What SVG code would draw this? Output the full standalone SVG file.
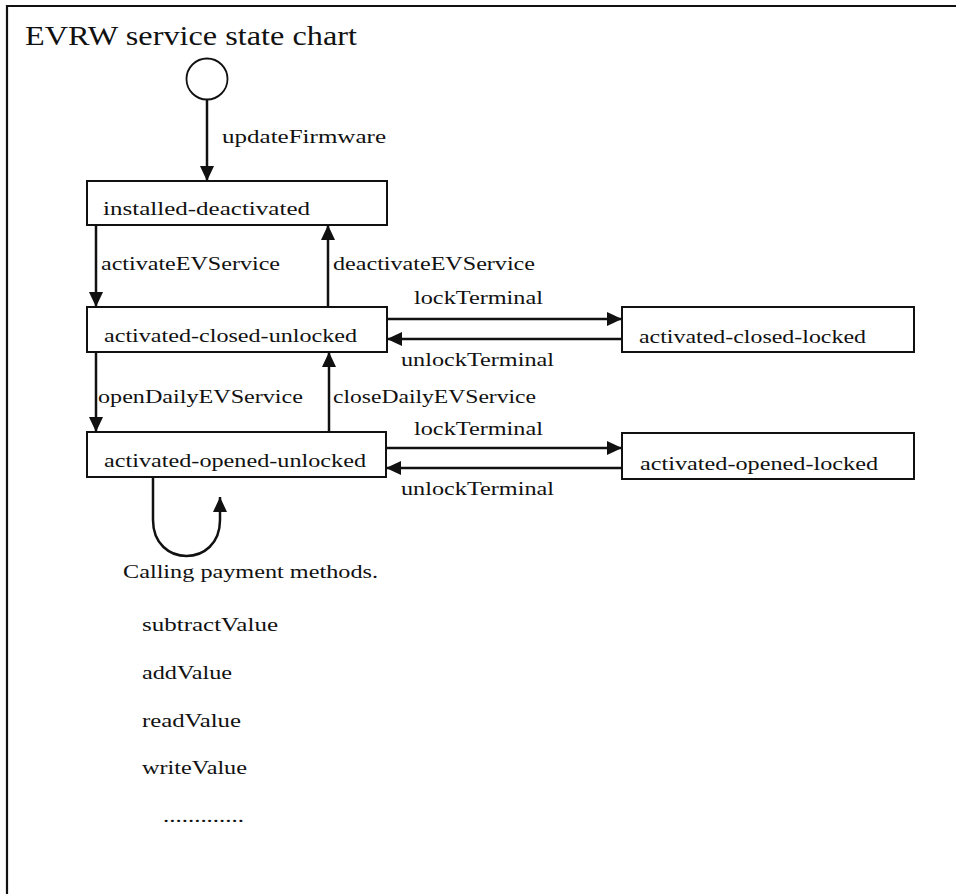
<svg xmlns="http://www.w3.org/2000/svg" width="956" height="894" viewBox="0 0 956 894" font-family="'Liberation Serif', 'DejaVu Serif', serif">
<style>
text{font-family:'Liberation Serif','DejaVu Serif',serif;fill:#111;font-size:18px}
.title{font-size:27px}
.box{fill:#fff;stroke:#111;stroke-width:2}
.conn{fill:none;stroke:#111;stroke-width:2.5}
</style>
<defs>
<marker id="ah" markerUnits="userSpaceOnUse" markerWidth="16" markerHeight="14" refX="15" refY="7" orient="auto">
<path d="M0,0 L15,7 L0,14 z" fill="#111"/>
</marker>
</defs>
<rect width="956" height="894" fill="#fff"/>
<g id="frame">
<path d="M7,894 L7,6 L956,6" fill="none" stroke="#111" stroke-width="2.2"/>
<text class="title" x="25" y="45" textLength="332" lengthAdjust="spacingAndGlyphs">EVRW service state chart</text>
</g>
<g id="initial">
<circle cx="207" cy="79" r="20.5" fill="#fff" stroke="#111" stroke-width="1.8"/>
</g>
<g id="installed-deactivated">
<rect class="box" x="87" y="181" width="300" height="44"/>
<text x="103" y="215" textLength="207" lengthAdjust="spacingAndGlyphs">installed-deactivated</text>
</g>
<g id="activated-closed-unlocked">
<rect class="box" x="87" y="307" width="300" height="45"/>
<text x="104" y="342" textLength="253" lengthAdjust="spacingAndGlyphs">activated-closed-unlocked</text>
</g>
<g id="activated-closed-locked">
<rect class="box" x="622" y="307" width="292" height="45"/>
<text x="639" y="343" textLength="227" lengthAdjust="spacingAndGlyphs">activated-closed-locked</text>
</g>
<g id="activated-opened-unlocked">
<rect class="box" x="87" y="432" width="299" height="45"/>
<text x="104" y="467" textLength="262" lengthAdjust="spacingAndGlyphs">activated-opened-unlocked</text>
</g>
<g id="activated-opened-locked">
<rect class="box" x="622" y="433" width="292" height="46"/>
<text x="640" y="470" textLength="238" lengthAdjust="spacingAndGlyphs">activated-opened-locked</text>
</g>
<g id="connectors">
<line class="conn" x1="207" y1="100" x2="207" y2="181" marker-end="url(#ah)"/>
<line class="conn" x1="96" y1="225" x2="96" y2="307" marker-end="url(#ah)"/>
<line class="conn" x1="328" y1="307" x2="328" y2="225" marker-end="url(#ah)"/>
<line class="conn" x1="387" y1="319" x2="622" y2="319" marker-end="url(#ah)"/>
<line class="conn" x1="622" y1="339" x2="387" y2="339" marker-end="url(#ah)"/>
<line class="conn" x1="96" y1="352" x2="96" y2="432" marker-end="url(#ah)"/>
<line class="conn" x1="329" y1="432" x2="329" y2="352" marker-end="url(#ah)"/>
<line class="conn" x1="386" y1="448" x2="622" y2="448" marker-end="url(#ah)"/>
<line class="conn" x1="622" y1="468" x2="386" y2="468" marker-end="url(#ah)"/>
<path class="conn" d="M153,477 L153,520 C153,568 220,568 220,520 L220,497" marker-end="url(#ah)"/>
</g>
<g id="labels">
<text x="222" y="143" textLength="164" lengthAdjust="spacingAndGlyphs">updateFirmware</text>
<text x="101" y="270" textLength="179" lengthAdjust="spacingAndGlyphs">activateEVService</text>
<text x="333" y="270" textLength="202" lengthAdjust="spacingAndGlyphs">deactivateEVService</text>
<text x="414" y="304" textLength="129" lengthAdjust="spacingAndGlyphs">lockTerminal</text>
<text x="401" y="366" textLength="153" lengthAdjust="spacingAndGlyphs">unlockTerminal</text>
<text x="98" y="403" textLength="205" lengthAdjust="spacingAndGlyphs">openDailyEVService</text>
<text x="333" y="403" textLength="203" lengthAdjust="spacingAndGlyphs">closeDailyEVService</text>
<text x="414" y="435" textLength="129" lengthAdjust="spacingAndGlyphs">lockTerminal</text>
<text x="401" y="495" textLength="153" lengthAdjust="spacingAndGlyphs">unlockTerminal</text>
<text x="123" y="578" textLength="255" lengthAdjust="spacingAndGlyphs">Calling payment methods.</text>
<text x="142" y="631" textLength="136" lengthAdjust="spacingAndGlyphs">subtractValue</text>
<text x="142" y="679" textLength="90" lengthAdjust="spacingAndGlyphs">addValue</text>
<text x="142" y="727" textLength="99" lengthAdjust="spacingAndGlyphs">readValue</text>
<text x="142" y="774" textLength="105" lengthAdjust="spacingAndGlyphs">writeValue</text>
<text x="163" y="822" textLength="81" lengthAdjust="spacingAndGlyphs">.............</text>
</g>
</svg>
